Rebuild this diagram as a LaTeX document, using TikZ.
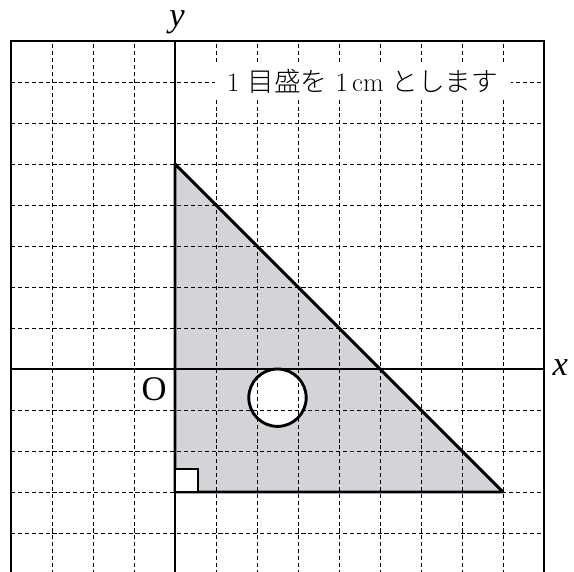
\RequirePackage{fix-cm}
\documentclass[tikz,border=0pt]{standalone}
\usepackage{fontspec}
\newfontfamily\jpfont{Noto Sans CJK JP}[UprightFont=* Light]
\newfontfamily\labelfont{Liberation Serif}
\definecolor{triangrey}{RGB}{211,212,215}
\newcommand{\labelsize}{\fontsize{24}{28}\selectfont}
\newcommand{\notesize}{\fontsize{18.5}{22}\selectfont}
\tikzset{
  gridline/.style={line width=0.6pt, dash pattern=on 2.8pt off 2pt},
  axisline/.style={line width=1.4pt},
  edgeline/.style={line width=2pt, line join=round},
  biglabel/.style={font=\labelfont\labelsize, inner sep=0pt, anchor=base}
}
\begin{document}
\begin{tikzpicture}
\useasboundingbox (-4.268,-4.927) rectangle (9.732,9);
\clip (-4.268,-4.927) rectangle (9.732,9);

\coordinate (A) at (0,5);
\coordinate (B) at (0,-3);
\coordinate (C) at (8,-3);
\coordinate (hole) at (2.5,-0.7);

% grey triangle, the hole stays white
\fill[triangrey, even odd rule] (A) -- (B) -- (C) -- cycle (hole) circle (0.7);

% grid
\foreach \i in {-3,...,8}
  \draw[gridline] (\i,-5) -- (\i,8);
\foreach \j in {-4,...,7}
  \draw[gridline] (-4,\j) -- (9,\j);
\draw[line width=1.2pt] (-4,-5) rectangle (9,8);

% axes
\draw[axisline] (-4,0) -- (9,0);
\draw[axisline] (0,-5) -- (0,8);

\node[biglabel] (xlab) at (9.40,-0.17) {\itshape x};
\node[biglabel, text height=1.1ex] (ylab) at (0.05,8.36) {\itshape y};
\node[biglabel] (olab) at (-0.51,-0.78) {O};

% triangle and hole
\draw[edgeline] (A) -- (B) -- (C) -- cycle;
\draw[edgeline] (hole) circle (0.7);
\draw[line width=1.2pt, fill=white] (B) rectangle ++(0.56,0.56);

\node[fill=white, anchor=base, inner xsep=0.3cm, inner ysep=0.15cm,
  font=\notesize] (note) at (4.58,6.78)
  {1 {\jpfont 目盛を} 1\,cm {\jpfont とします}};
\end{tikzpicture}
\end{document}
